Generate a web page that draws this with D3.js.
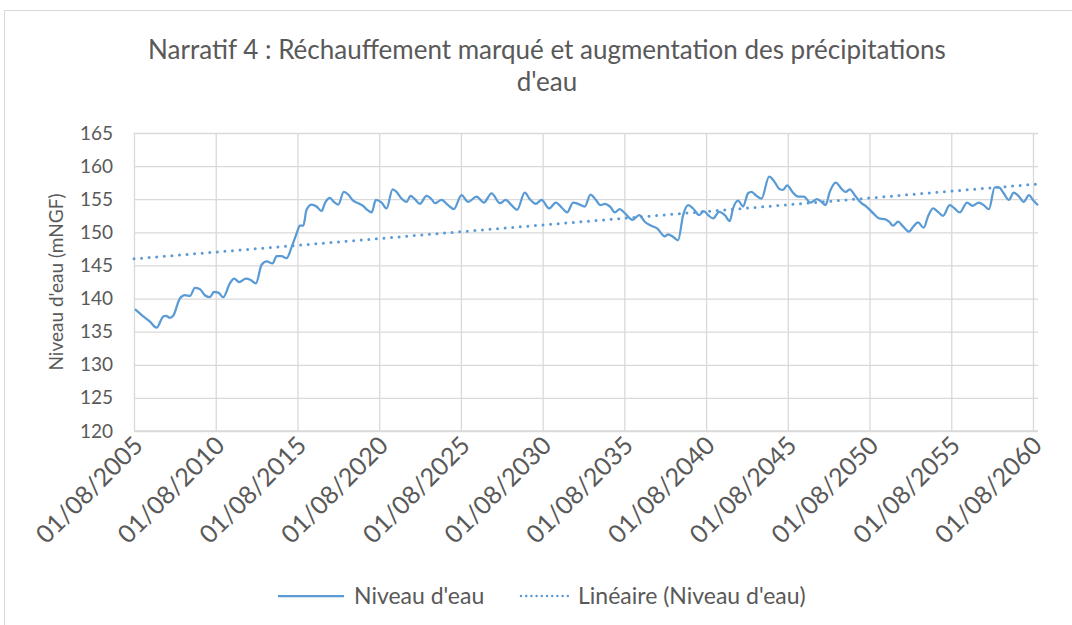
<!DOCTYPE html>
<html>
<head>
<meta charset="utf-8">
<script src="https://cdn.jsdelivr.net/npm/d3@7"></script>
<style>
  body { margin: 0; background: #fff; }
  svg { display: block; font-family: "Lato", "Open Sans", sans-serif; }
  svg text { font-family: "Lato", "Open Sans", sans-serif; }
</style>
</head>
<body>
<svg width="1072" height="625"></svg>
<script>
// Niveau d'eau (années décimales)
let years = [
  2005.64, 2006.15, 2006.56, 2006.97, 2007.37, 2007.54, 2007.78, 2007.98, 2008.39, 2008.70,
  2009.01, 2009.31, 2009.62, 2009.92, 2010.23, 2010.47, 2010.74, 2011.04, 2011.45, 2011.71,
  2012.02, 2012.43, 2012.72, 2013.04, 2013.39, 2013.70, 2014.06, 2014.31, 2014.61, 2014.92,
  2015.23, 2015.53, 2015.73, 2015.94, 2016.14, 2016.45, 2016.75, 2017.06, 2017.26, 2017.57,
  2017.81, 2018.08, 2018.42, 2018.69, 2018.99, 2019.30, 2019.60, 2019.85, 2020.12, 2020.38,
  2020.73, 2021.04, 2021.40, 2021.65, 2021.95, 2022.26, 2022.50, 2022.77, 2023.07, 2023.48,
  2023.79, 2023.99, 2024.40, 2024.80, 2025.15, 2025.62, 2026.03, 2026.54, 2026.99, 2027.46,
  2027.97, 2028.33, 2028.68, 2029.02, 2029.49, 2029.80, 2030.17, 2030.52, 2030.98, 2031.39,
  2031.80, 2032.08, 2032.45, 2032.75, 2033.16, 2033.51, 2033.84, 2034.12, 2034.39, 2034.74,
  2035.00, 2035.30, 2035.61, 2036.08, 2036.49, 2036.83, 2037.24, 2037.59, 2038.06, 2038.26,
  2038.57, 2038.87, 2039.18, 2039.49, 2039.79, 2040.16, 2040.44, 2040.71, 2041.01, 2041.38,
  2041.73, 2042.03, 2042.23, 2042.54, 2042.85, 2043.15, 2043.36, 2043.67, 2043.97, 2044.44,
  2044.72, 2045.09, 2045.29, 2045.54, 2045.90, 2046.21, 2046.56, 2046.97, 2047.37, 2047.64,
  2047.89, 2048.15, 2048.52, 2048.86, 2049.13, 2049.37, 2049.74, 2050.09, 2050.39, 2050.80,
  2051.16, 2051.51, 2051.78, 2052.02, 2052.33, 2052.63, 2053.00, 2053.24, 2053.55, 2053.90,
  2054.16, 2054.47, 2054.77, 2055.08, 2055.49, 2055.79, 2056.10, 2056.55, 2056.88, 2057.28,
  2057.57, 2057.89, 2058.24, 2058.50, 2058.79, 2059.11, 2059.40, 2059.73, 2060.01, 2060.34,
  2060.58, 2060.89
];
let niveau = [
  138.4, 137.3, 136.5, 135.6, 137.3, 137.4, 137.1, 137.4, 140.0, 140.5,
  140.4, 141.6, 141.4, 140.5, 140.2, 141.0, 140.9, 140.2, 142.3, 143.0,
  142.5, 143.0, 142.8, 142.3, 145.1, 145.6, 145.3, 146.4, 146.4, 146.1,
  147.8, 149.8, 151.0, 151.0, 153.4, 154.2, 153.9, 153.2, 154.4, 155.2,
  154.6, 154.2, 156.1, 155.7, 154.8, 154.4, 154.0, 153.4, 153.0, 154.9,
  154.5, 153.6, 156.5, 156.1, 155.1, 154.6, 155.5, 155.0, 154.3, 155.5,
  155.0, 154.4, 154.9, 154.1, 153.5, 155.6, 154.6, 155.4, 154.5, 155.9,
  154.4, 154.9, 154.1, 153.4, 156.0, 155.0, 154.3, 154.9, 153.6, 154.5,
  153.6, 153.0, 154.5, 154.3, 153.9, 155.7, 154.9, 154.1, 154.3, 153.8,
  153.0, 153.5, 152.9, 151.9, 152.6, 151.6, 151.0, 150.6, 149.4, 149.7,
  149.3, 148.8, 152.6, 154.1, 153.6, 152.6, 153.2, 152.6, 152.1, 153.1,
  152.6, 151.7, 153.6, 154.8, 153.9, 155.9, 156.1, 155.5, 155.1, 158.4,
  157.8, 156.5, 156.4, 157.1, 156.0, 155.4, 155.4, 154.5, 155.0, 154.6,
  154.1, 156.1, 157.5, 156.6, 156.1, 156.5, 155.4, 154.4, 153.9, 152.9,
  152.1, 152.0, 151.6, 151.0, 151.6, 150.9, 150.1, 150.8, 151.5, 150.7,
  152.4, 153.6, 153.1, 152.5, 154.1, 153.6, 153.0, 154.5, 154.0, 154.5,
  154.1, 153.5, 156.8, 156.8, 155.9, 154.9, 156.0, 155.4, 154.6, 155.6,
  154.9, 154.1
];

// courbe de tendance linéaire (début, fin)
let trendYears = [2005 + 7 / 12, 2060.89];
let trendValues = [146.0, 157.3];

let tickYears = [2005, 2010, 2015, 2020, 2025, 2030, 2035, 2040, 2045, 2050, 2055, 2060];
let yTicks = [120, 125, 130, 135, 140, 145, 150, 155, 160, 165];

let titleLines = ["Narratif 4 : Réchauffement marqué et augmentation des précipitations", "d'eau"];
let seriesNames = ["Niveau d'eau", "Linéaire (Niveau d'eau)"];

let blue = "#5b9bd5",
  grid = "#d9d9d9",
  textCol = "#595959";

let svg = d3.select("svg");

// cadre du graphique
svg.append("rect")
  .attr("x", 4.5).attr("y", 10.5)
  .attr("width", 1080).attr("height", 640)
  .attr("fill", "#fff")
  .attr("stroke", grid);

let margin = { left: 134, right: 1038, top: 133, bottom: 431 };

let x = d3.scaleLinear()
  .domain([2005 + 7 / 12, 2060.89])
  .range([margin.left, margin.right]);

let y = d3.scaleLinear()
  .domain([120, 165])
  .range([margin.bottom, margin.top]);

// grille horizontale
svg.append("g")
  .attr("transform", `translate(${margin.left},0)`)
  .call(d3.axisLeft(y).tickValues(yTicks).tickSize(-(margin.right - margin.left)).tickFormat(d => d))
  .call(g => g.select(".domain").remove())
  .call(g => g.selectAll("line").attr("stroke", grid).attr("stroke-width", 1.3))
  .call(g => g.selectAll("text")
    .attr("x", -21)
    .attr("fill", textCol)
    .style("font-size", "19px"));

// grille verticale + étiquettes dates
svg.append("g")
  .attr("transform", `translate(0,${margin.bottom})`)
  .call(d3.axisBottom(x)
    .tickValues(tickYears.map(t => t + 7 / 12))
    .tickSize(-(margin.bottom - margin.top))
    .tickFormat((d, i) => "01/08/" + tickYears[i]))
  .call(g => g.select(".domain").remove())
  .call(g => g.selectAll("line").attr("stroke", grid).attr("stroke-width", 1.3))
  .call(g => g.selectAll("text")
    .attr("fill", textCol)
    .style("font-size", "25px")
    .attr("text-anchor", "end")
    .attr("dy", null)
    .attr("y", 0)
    .attr("transform", "translate(10,16) rotate(-45)"));

// axe du bas
svg.append("line")
  .attr("x1", margin.left).attr("x2", margin.right)
  .attr("y1", margin.bottom).attr("y2", margin.bottom)
  .attr("stroke", grid).attr("stroke-width", 1.3);

// série
let line = d3.line()
  .x((d, i) => x(years[i]))
  .y(d => y(d))
  .curve(d3.curveMonotoneX);

svg.append("path")
  .datum(niveau)
  .attr("d", line)
  .attr("fill", "none")
  .attr("stroke", blue)
  .attr("stroke-width", 2.25)
  .attr("stroke-linejoin", "round");

// tendance
svg.append("path")
  .datum(trendValues)
  .attr("d", d3.line().x((d, i) => x(trendYears[i])).y(d => y(d)))
  .attr("fill", "none")
  .attr("stroke", blue)
  .attr("stroke-width", 3)
  .attr("stroke-linecap", "round")
  .attr("stroke-dasharray", "0,7.6");

// titre
svg.append("g").selectAll("text")
  .data(titleLines)
  .enter().append("text")
  .attr("x", 547)
  .attr("y", (d, i) => 59 + i * 32)
  .attr("text-anchor", "middle")
  .attr("fill", textCol)
  .style("font-size", "26px")
  .text(d => d);

// titre axe y
svg.append("text")
  .attr("transform", `translate(63,${(margin.top + margin.bottom) / 2}) rotate(-90)`)
  .attr("text-anchor", "middle")
  .attr("fill", textCol)
  .style("font-size", "19px")
  .text("Niveau d'eau (mNGF)");

// légende
let legend = svg.append("g");
let legendX = [278, 521];
let legendItem = legend.selectAll("g")
  .data(seriesNames)
  .enter().append("g")
  .attr("transform", (d, i) => `translate(${legendX[i]},596)`);

legendItem.append("line")
  .attr("x1", 0).attr("x2", (d, i) => i === 0 ? 66 : 48)
  .attr("stroke", blue)
  .attr("stroke-width", (d, i) => i === 0 ? 2.25 : 2.5)
  .attr("stroke-linecap", (d, i) => i === 0 ? "butt" : "round")
  .attr("stroke-dasharray", (d, i) => i === 0 ? null : "0,5.2");

legendItem.append("text")
  .attr("x", (d, i) => i === 0 ? 76 : 57)
  .attr("dy", "0.35em")
  .attr("fill", textCol)
  .style("font-size", "23px")
  .text(d => d);
</script>
</body>
</html>
